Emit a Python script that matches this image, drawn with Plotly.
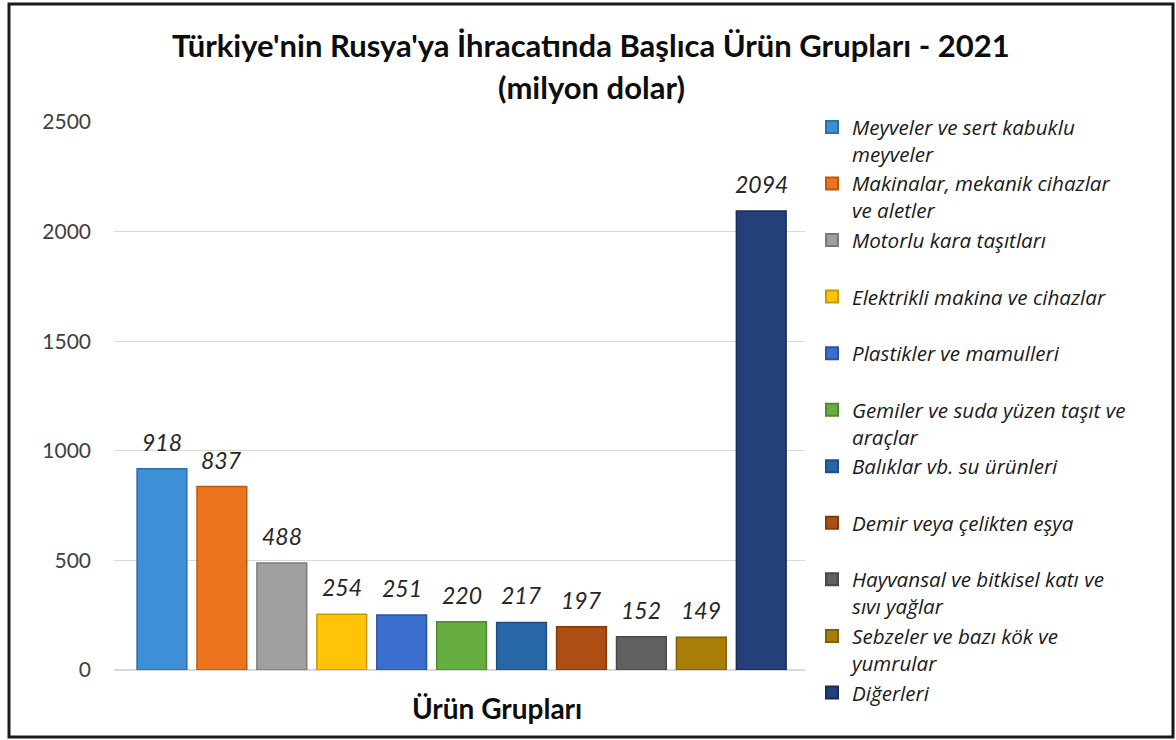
import plotly.graph_objects as go

categories = [
    "Meyveler ve sert kabuklu<br>meyveler",
    "Makinalar, mekanik cihazlar<br>ve aletler",
    "Motorlu kara taşıtları",
    "Elektrikli makina ve cihazlar",
    "Plastikler ve mamulleri",
    "Gemiler ve suda yüzen taşıt ve<br>araçlar",
    "Balıklar vb. su ürünleri",
    "Demir veya çelikten eşya",
    "Hayvansal ve bitkisel katı ve<br>sıvı yağlar",
    "Sebzeler ve bazı kök ve<br>yumrular",
    "Diğerleri",
]
values = [918, 837, 488, 254, 251, 220, 217, 197, 152, 149, 2094]
colors = ["#3D8FD6", "#EC741C", "#A0A0A0", "#FFC408", "#3A6FD0",
          "#66AE40", "#2767A8", "#AE4E12", "#606060", "#A87E06", "#243F7A"]
line_colors = ["#2E6FA8", "#B85A14", "#7A7A7A", "#C89A00", "#2B55A0",
               "#4E8830", "#1C4E80", "#843A0C", "#484848", "#7E5E04", "#182C58"]
y_ticks = [0, 500, 1000, 1500, 2000, 2500]

title_line1 = "Türkiye'nin Rusya'ya İhracatında Başlıca Ürün Grupları - 2021"
title_line2 = "(milyon dolar)"
x_title = "Ürün Grupları"

fig = go.Figure()
for i, (cat, val) in enumerate(zip(categories, values)):
    label = cat if "<br>" in cat else cat + "<br>&nbsp;"
    fig.add_trace(go.Bar(
        x=[i], y=[val], name=label,
        marker=dict(color=colors[i], line=dict(color=line_colors[i], width=1.5)),
        width=0.83,
        hoverinfo="y",
    ))
    fig.add_annotation(
        x=i, y=val, text=f"<i>{val}</i>", showarrow=False,
        yshift=27, font=dict(family="Lato", size=23, color="#262626"),
    )

L, R, T, B = 114, 371, 122, 70
PW = 1176 - L - R
PH = 740 - T - B

def px_x(px):
    return (px - L) / PW

def px_y(py):
    return (740 - B - py) / PH

fig.add_annotation(xref="paper", yref="paper", x=px_x(591), y=px_y(45),
                   xanchor="center", yanchor="middle",
                   text=f"<b>{title_line1}</b>", showarrow=False,
                   font=dict(family="Lato", size=31, color="#0d0d0d"))
fig.add_annotation(xref="paper", yref="paper", x=px_x(591), y=px_y(87),
                   xanchor="center", yanchor="middle",
                   text=f"<b>{title_line2}</b>", showarrow=False,
                   font=dict(family="Lato", size=31, color="#0d0d0d"))
fig.add_annotation(xref="paper", yref="paper", x=px_x(497), y=px_y(708),
                   xanchor="center", yanchor="middle",
                   text=f"<b>{x_title}</b>", showarrow=False,
                   font=dict(family="Lato", size=28, color="#0d0d0d"))

fig.add_shape(type="rect", xref="paper", yref="paper",
              x0=px_x(9), x1=px_x(1173), y0=px_y(737), y1=px_y(4),
              line=dict(color="#1a1a1a", width=3), fillcolor="rgba(0,0,0,0)", layer="above")

fig.update_layout(
    width=1176, height=740,
    margin=dict(l=L, r=R, t=T, b=B, autoexpand=False),
    paper_bgcolor="white", plot_bgcolor="white",
    showlegend=True,
    bargap=0.17,
    legend=dict(
        x=px_x(812), y=px_y(107), xanchor="left", yanchor="top",
        font=dict(family="Open Sans", size=20.6, color="#1a1a1a", style="italic"),
        valign="top", tracegroupgap=0, itemsizing="constant",
        bgcolor="rgba(0,0,0,0)", maxheight=720,
    ),
    xaxis=dict(range=[-0.8, 10.73], showticklabels=False, showgrid=False,
               zeroline=False, showline=False, ticks=""),
    yaxis=dict(range=[0, 2500], tickvals=y_ticks, showgrid=True, gridcolor="#d9d9d9",
               gridwidth=1, zeroline=True, zerolinecolor="#d9d9d9", showline=False,
               ticks="", ticklabelstandoff=22,
               tickfont=dict(family="Lato", size=21, color="#404040")),
)

fig.write_html("out.html", post_script="document.body.style.margin='0';",
               config={"displayModeBar": False})
